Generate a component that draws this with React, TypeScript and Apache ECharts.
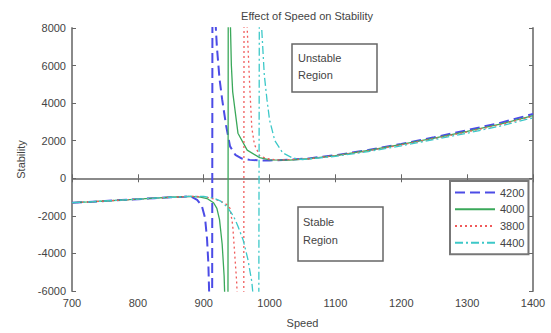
import React, { useEffect, useRef } from "react";
import * as echarts from "echarts";

const title = "Effect of Speed on Stability";
const xName = "Speed";
const yName = "Stability";
const seriesNames = ["4200", "4000", "3800", "4400"];

// Shared left plateau (speed, stability)
const leftSpeeds = [700, 725, 750, 775, 800, 825, 850, 870, 880];
const leftVals = [-1300, -1260, -1210, -1160, -1110, -1060, -1010, -980, -960];

// 4200 (blue dashed)
const s4200Speeds = [890, 897, 902, 905, 907, 909, 912, 914, 916, 920, 924, 928, 934, 940, 948, 958, 970, 985, 1000, 1030, 1060, 1100, 1150, 1200, 1250, 1300, 1350, 1400];
const s4200Vals = [-1150, -1450, -2100, -3200, -4500, -7000, -40000, 40000, 9500, 7000, 5300, 4200, 2800, 1700, 1250, 1050, 980, 950, 950, 990, 1060, 1230, 1500, 1830, 2180, 2560, 2950, 3420];

// 4000 (green solid)
const s4000Speeds = [895, 905, 915, 920, 924, 928, 931, 933, 936, 938, 940, 942, 944, 952, 966, 985, 1000, 1030, 1060, 1100, 1150, 1200, 1250, 1300, 1350, 1400];
const s4000Vals = [-1000, -1080, -1300, -1600, -2200, -3500, -5200, -7500, -40000, 40000, 9000, 6000, 4600, 2400, 1500, 1100, 980, 970, 1040, 1210, 1480, 1800, 2140, 2500, 2880, 3330];

// 3800 (red dotted)
const s3800Speeds = [900, 910, 925, 935, 940, 944, 947, 950, 953, 960, 962, 966, 970, 973, 977, 985, 995, 1010, 1030, 1060, 1100, 1150, 1200, 1250, 1300, 1350, 1400];
const s3800Vals = [-980, -1050, -1200, -1400, -1600, -2500, -4000, -5500, -8000, -40000, 40000, 8000, 4800, 2700, 1800, 1200, 1050, 980, 990, 1040, 1200, 1460, 1780, 2110, 2470, 2850, 3300];

// 4400 (cyan dash-dot)
const s4400Speeds = [900, 915, 925, 935, 945, 952, 960, 967, 973, 977, 982, 986, 988, 992, 996, 1000, 1008, 1020, 1035, 1050, 1100, 1150, 1200, 1250, 1300, 1350, 1400];
const s4400Vals = [-970, -1050, -1200, -1500, -2000, -2550, -3300, -4300, -5500, -7000, -40000, 40000, 8000, 5500, 4200, 3100, 2000, 1350, 1080, 1000, 1170, 1420, 1730, 2060, 2400, 2780, 3220];

const pairs = (xs: number[], ys: number[]) => xs.map((x, i) => [x, ys[i]]);

export default function App() {
  const ref = useRef<HTMLDivElement>(null);
  useEffect(() => {
    if (!ref.current) return;
    const chart = echarts.init(ref.current, null, { renderer: "svg" });
    const font = "Liberation Sans";
    const axisColor = "#8a8a8a";
    const textColor = "#444";
    const mk = (name: string, xs: number[], ys: number[], color: string, type: any, width: number) => ({
      name,
      type: "line",
      data: pairs(leftSpeeds.concat(xs), leftVals.concat(ys)),
      showSymbol: false,
      symbol: "none",
      clip: true,
      lineStyle: { color, type, width },
      itemStyle: { color },
      z: 3,
    });
    const plain = (v: number) => String(v);
    chart.setOption({
      animation: false,
      backgroundColor: "#fff",
      title: {
        text: title,
        left: 302,
        top: 5,
        textAlign: "center",
        textStyle: { fontFamily: font, fontSize: 11, fontWeight: "normal", color: textColor },
      },
      grid: { left: 72, right: 18, top: 28, bottom: 41 },
      xAxis: [
        {
          type: "value",
          min: 700,
          max: 1400,
          interval: 100,
          name: xName,
          nameLocation: "middle",
          nameGap: 26,
          nameTextStyle: { fontFamily: font, fontSize: 11, color: textColor },
          axisLine: { show: true, lineStyle: { color: axisColor, width: 2 } },
          axisTick: { show: true, inside: true, length: 4, lineStyle: { color: "#666" } },
          axisLabel: { fontFamily: font, fontSize: 11, color: textColor, margin: 6, formatter: plain },
          splitLine: { show: false },
        },
        {
          type: "value",
          position: "top",
          min: 700,
          max: 1400,
          interval: 100,
          axisLine: { show: true, lineStyle: { color: axisColor, width: 2 } },
          axisTick: { show: true, inside: true, length: 4, lineStyle: { color: "#666" } },
          axisLabel: { show: false },
          splitLine: { show: false },
        },
      ],
      yAxis: [
        {
          type: "value",
          min: -6000,
          max: 8000,
          interval: 2000,
          name: yName,
          nameLocation: "middle",
          nameGap: 46,
          nameTextStyle: { fontFamily: font, fontSize: 11, color: textColor },
          axisLine: { show: true, lineStyle: { color: axisColor, width: 2 } },
          axisTick: { show: true, inside: true, length: 4, lineStyle: { color: "#666" } },
          axisLabel: { fontFamily: font, fontSize: 11, color: textColor, margin: 6, formatter: plain },
          splitLine: { show: false },
        },
        {
          type: "value",
          position: "right",
          min: -6000,
          max: 8000,
          interval: 2000,
          axisLine: { show: true, lineStyle: { color: axisColor, width: 2 } },
          axisTick: { show: true, inside: true, length: 4, lineStyle: { color: "#666" } },
          axisLabel: { show: false },
          splitLine: { show: false },
        },
      ],
      legend: {
        data: seriesNames,
        orient: "vertical",
        left: 450,
        top: 181,
        itemWidth: 40,
        itemHeight: 14,
        itemGap: 5.5,
        padding: [6, 4, 6, 4],
        borderColor: "#777",
        borderWidth: 2,
        backgroundColor: "#fff",
        itemStyle: { opacity: 0 },
        textStyle: { fontFamily: font, fontSize: 11, color: textColor },
      },
      graphic: [
        {
          type: "rect",
          shape: { x: 292, y: 44, width: 85, height: 48 },
          style: { fill: "#fff", stroke: "#666", lineWidth: 1.5 },
          z: 10,
        },
        {
          type: "text",
          x: 298,
          y: 49,
          style: { text: "Unstable\nRegion", fontFamily: font, fontSize: 11, fill: textColor, lineHeight: 17 },
          z: 11,
        },
        {
          type: "rect",
          shape: { x: 298, y: 207, width: 85, height: 54 },
          style: { fill: "#fff", stroke: "#666", lineWidth: 1.5 },
          z: 10,
        },
        {
          type: "text",
          x: 303,
          y: 213,
          style: { text: "Stable\nRegion", fontFamily: font, fontSize: 11, fill: textColor, lineHeight: 18 },
          z: 11,
        },
      ],
      series: [
        mk("4200", s4200Speeds, s4200Vals, "#4c4ce6", [10, 5], 2),
        mk("4000", s4000Speeds, s4000Vals, "#3aa85a", "solid", 1.3),
        mk("3800", s3800Speeds, s3800Vals, "#f05a5a", [2, 3], 1.3),
        mk("4400", s4400Speeds, s4400Vals, "#3cc8c8", [8, 3, 2, 3], 1.3),
      ],
    });
    return () => chart.dispose();
  }, []);
  return <div ref={ref} style={{ width: 551, height: 333, position: "absolute", left: 0, top: 0 }} />;
}
